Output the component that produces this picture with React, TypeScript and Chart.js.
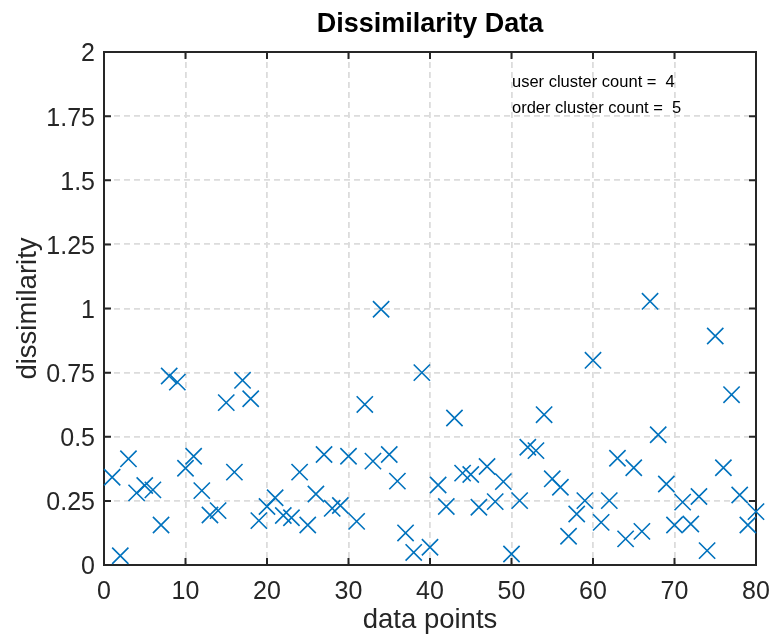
import React, { useEffect, useRef } from "react";
import { Chart, registerables } from "chart.js";

Chart.register(...registerables);

const titleText = "Dissimilarity Data";
const xLabel = "data points";
const yLabel = "dissimilarity";
const annotationLines = ["user cluster count =  4", "order cluster count =  5"];

const dissimilarity = [
  0.342, 0.036, 0.414, 0.281, 0.31, 0.293, 0.156, 0.737, 0.713, 0.377,
  0.424, 0.29, 0.195, 0.212, 0.633, 0.362, 0.72, 0.648, 0.173, 0.228,
  0.262, 0.193, 0.184, 0.362, 0.156, 0.277, 0.431, 0.221, 0.232, 0.424,
  0.17, 0.626, 0.405, 0.997, 0.431, 0.327, 0.125, 0.049, 0.75, 0.069,
  0.312, 0.228, 0.573, 0.358, 0.353, 0.225, 0.384, 0.247, 0.325, 0.043,
  0.251, 0.459, 0.446, 0.586, 0.336, 0.303, 0.112, 0.199, 0.251, 0.798,
  0.166, 0.251, 0.416, 0.102, 0.379, 0.131, 1.028, 0.508, 0.316, 0.156,
  0.245, 0.16, 0.267, 0.056, 0.893, 0.379, 0.664, 0.273, 0.156, 0.208,
];

const xTicks = [0, 10, 20, 30, 40, 50, 60, 70, 80];
const yTicks = [0, 0.25, 0.5, 0.75, 1, 1.25, 1.5, 1.75, 2];
const yTickLabels = ["0", "0.25", "0.5", "0.75", "1", "1.25", "1.5", "1.75", "2"];

const FONT = "'Liberation Sans', Arial, Helvetica, sans-serif";
const AXIS_COLOR = "#262626";
const MARKER_COLOR = "#0072BD";

const framePlugin = {
  id: "matlabFrame",
  beforeDatasetsDraw(chart: any) {
    const { ctx, chartArea } = chart;
    const { left, right, top, bottom } = chartArea;
    const xs = chart.scales.x;
    const ys = chart.scales.y;
    const tl = 7;
    ctx.save();
    ctx.strokeStyle = AXIS_COLOR;
    ctx.lineWidth = 2;
    ctx.setLineDash([]);
    ctx.beginPath();
    xTicks.forEach((v) => {
      const px = xs.getPixelForValue(v);
      ctx.moveTo(px, bottom);
      ctx.lineTo(px, bottom - tl);
      ctx.moveTo(px, top);
      ctx.lineTo(px, top + tl);
    });
    yTicks.forEach((v) => {
      const py = ys.getPixelForValue(v);
      ctx.moveTo(left, py);
      ctx.lineTo(left + tl, py);
      ctx.moveTo(right, py);
      ctx.lineTo(right - tl, py);
    });
    ctx.stroke();
    ctx.strokeRect(left, top, right - left, bottom - top);
    ctx.restore();
  },
  afterDraw(chart: any) {
    const { ctx, chartArea } = chart;
    ctx.save();
    ctx.fillStyle = "#000000";
    ctx.textAlign = "center";
    ctx.textBaseline = "alphabetic";
    ctx.font = `bold 27px ${FONT}`;
    ctx.fillText(titleText, (chartArea.left + chartArea.right) / 2, 31.5);
    ctx.textAlign = "left";
    ctx.font = `16.5px ${FONT}`;
    ctx.fillText(annotationLines[0], 512, 87);
    ctx.fillText(annotationLines[1], 512, 113);
    ctx.restore();
  },
};

export default function App() {
  const canvasRef = useRef<HTMLCanvasElement | null>(null);

  useEffect(() => {
    if (!canvasRef.current) return;
    const points = dissimilarity.map((y, i) => ({ x: i + 1, y }));
    const chart = new Chart(canvasRef.current, {
      type: "scatter",
      data: {
        datasets: [
          {
            data: points,
            pointStyle: "crossRot",
            pointRadius: 11.5,
            pointHoverRadius: 11.5,
            pointBorderWidth: 1.6,
            borderColor: MARKER_COLOR,
            backgroundColor: MARKER_COLOR,
            clip: false,
          } as any,
        ],
      },
      options: {
        responsive: false,
        animation: false,
        events: [],
        layout: { padding: { top: 52, right: 17, left: 0, bottom: 0 } },
        plugins: {
          legend: { display: false },
          tooltip: { enabled: false },
          title: { display: false },
        },
        scales: {
          x: {
            type: "linear",
            min: 0,
            max: 80,
            afterFit: (scale: any) => {
              scale.height = 75;
              scale.paddingLeft = 0;
              scale.paddingRight = 0;
            },
            afterBuildTicks: (scale: any) => {
              scale.ticks = xTicks.map((v) => ({ value: v }));
            },
            ticks: {
              color: AXIS_COLOR,
              font: { family: FONT, size: 25 },
              padding: 12,
              maxRotation: 0,
              autoSkip: false,
              callback: (v: any) => String(v),
            },
            grid: { color: "#dcdcdc", lineWidth: 1.8, drawTicks: false },
            border: { display: false, dash: [6, 4] },
            title: {
              display: true,
              text: xLabel,
              color: AXIS_COLOR,
              font: { family: FONT, size: 27.5 },
              padding: { top: 0, bottom: 3.5 },
            },
          },
          y: {
            type: "linear",
            min: 0,
            max: 2,
            afterFit: (scale: any) => {
              scale.width = 104;
              scale.paddingTop = 0;
              scale.paddingBottom = 0;
            },
            afterBuildTicks: (scale: any) => {
              scale.ticks = yTicks.map((v) => ({ value: v }));
            },
            ticks: {
              color: AXIS_COLOR,
              font: { family: FONT, size: 25 },
              padding: 9,
              labelOffset: 2.5,
              autoSkip: false,
              callback: (v: any) => {
                const idx = yTicks.indexOf(Number(v));
                return idx >= 0 ? yTickLabels[idx] : "";
              },
            },
            grid: { color: "#dcdcdc", lineWidth: 1.8, drawTicks: false },
            border: { display: false, dash: [6, 4] },
            title: {
              display: true,
              text: yLabel,
              color: AXIS_COLOR,
              font: { family: FONT, size: 27.5 },
              padding: { top: 11.5, bottom: 0 },
            },
          },
        },
      },
      plugins: [framePlugin],
    });
    return () => chart.destroy();
  }, []);

  return (
    <div style={{ position: "fixed", left: 0, top: 0, width: 773, height: 640, background: "#ffffff" }}>
      <canvas ref={canvasRef} width={773} height={640} style={{ display: "block" }} />
    </div>
  );
}
